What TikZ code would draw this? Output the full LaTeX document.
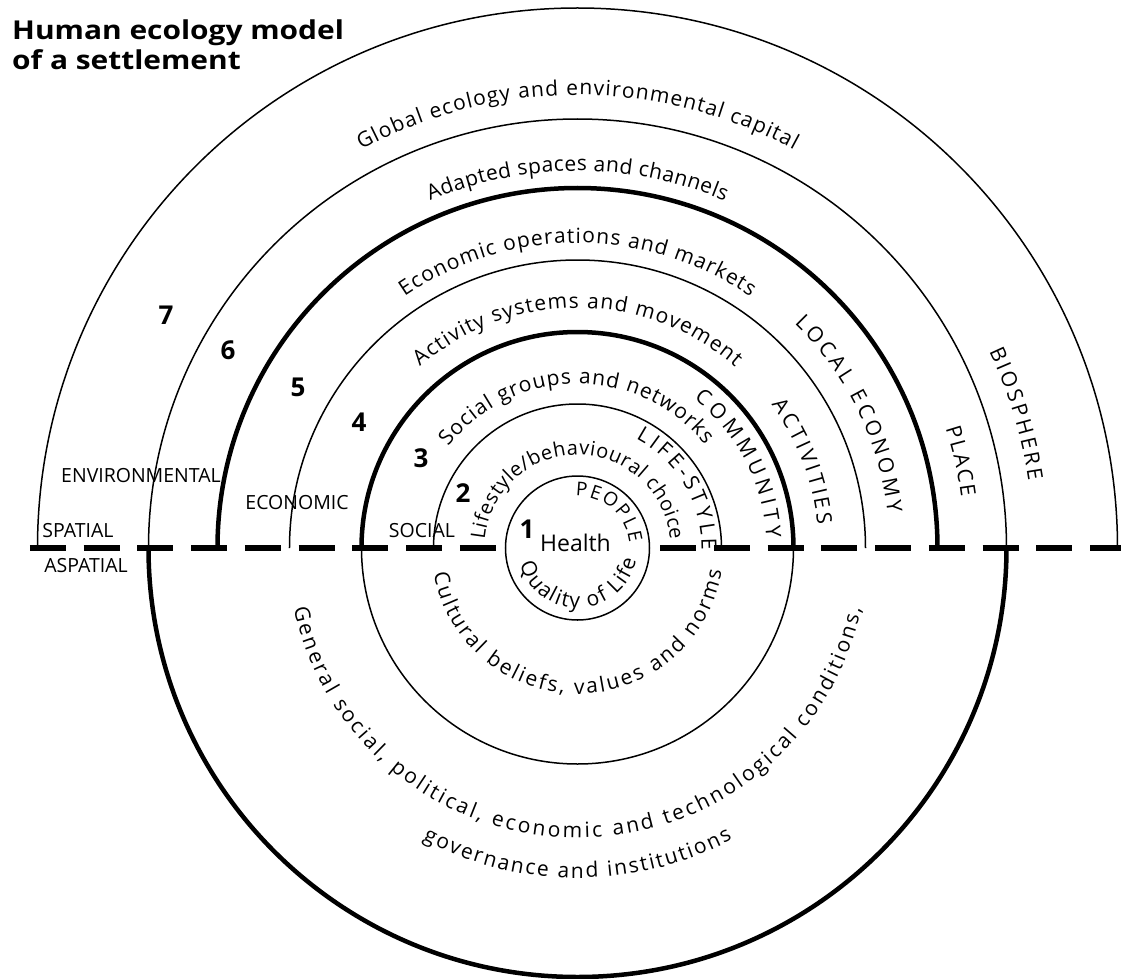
\documentclass[tikz,border=0pt]{standalone}
\usepackage{fontspec}
\setmainfont{Open Sans}
\newfontfamily\titlefont{Open Sans}[FakeStretch=1.15]
\usetikzlibrary{decorations.text}

\newcommand{\arcfont}{\fontsize{21}{24}\selectfont}
\newcommand{\capsfont}{\fontsize{19.5}{22}\selectfont}

\begin{document}
\begin{tikzpicture}[x=1pt,y=1pt,
  thinring/.style={line width=1.5pt},
  thickring/.style={line width=4.5pt},
  divider/.style={line width=6pt,dash pattern=on 36pt off 17.75pt},
  sector/.style={font=\capsfont,inner sep=0pt},
  level/.style={font=\fontsize{26}{28}\selectfont\bfseries,inner sep=0pt},
  heading/.style={font=\titlefont\fontsize{26}{28}\selectfont\bfseries,anchor=base west,inner sep=0pt},
  ringtext/.style={decorate,decoration={text along path,text align={fit to path},text={|\arcfont|#1}}},
  ringcaps/.style 2 args={decorate,decoration={text along path,text align={fit to path},text={|\fontsize{#1}{22}\selectfont|#2}}}]

\useasboundingbox (-577.5,-430) rectangle (543.5,548);

\draw[thinring] (180:540) arc[start angle=180,end angle=0,radius=540];
\draw[thinring] (180:429) arc[start angle=180,end angle=0,radius=429];
\draw[thickring] (180:429) arc[start angle=180,end angle=360,radius=429];
\draw[thickring] (180:360) arc[start angle=180,end angle=0,radius=360];
\draw[thinring] (180:288) arc[start angle=180,end angle=0,radius=288];
\draw[thickring] (180:216) arc[start angle=180,end angle=0,radius=216];
\draw[thinring] (180:216) arc[start angle=180,end angle=360,radius=216];
\draw[thinring] (180:144) arc[start angle=180,end angle=0,radius=144];
\draw[thinring] (0,0) circle[radius=72];

\draw[divider] (-547.5,0) -- (-80.5,0);
\draw[divider] (82.5,0) -- (543.5,0);

\node[heading] (title1) at (-565.5,508) {Human ecology model};
\node[heading] (title2) at (-565.5,478) {of a settlement};

\node[sector] (spatial) at (-499.5,17) {SPATIAL};
\node[sector] (aspatial) at (-491.5,-18) {ASPATIAL};
\node[sector] (environmental) at (-436.5,72) {ENVIRONMENTAL};
\node[sector] (economic) at (-280.5,45) {ECONOMIC};
\node[sector] (social) at (-155.5,17) {SOCIAL};
\node[font=\fontsize{23}{26}\selectfont,anchor=base,inner sep=0pt] (health) at (-2,-3) {Health};

\foreach \n/\x/\y in {1/-50.5/19,2/-114.5/55,3/-156.5/90,4/-218.5/126,5/-279.5/161,6/-349.5/198,7/-411.5/233}
  \node[level] (l\n) at (\x,\y) {\n};

\path[ringtext={Global ecology and environmental capital}] (118.5:453) arc[start angle=118.5,end angle=61.5,radius=453];
\path[ringtext={Adapted spaces and channels}] (113:377) arc[start angle=113,end angle=67,radius=377];
\path[ringtext={Economic operations and markets}] (124.5:305) arc[start angle=124.5,end angle=55.5,radius=305];
\path[ringtext={Activity systems and movement}] (131:240) arc[start angle=131,end angle=49,radius=240];
\path[ringtext={Social groups and networks}] (142:164) arc[start angle=142,end angle=39,radius=164];
\path[decorate,decoration={text along path,text align={fit to path},text={|\fontsize{20}{22}\selectfont|Lifestyle/behavioural choice}}] (175:93) arc[start angle=175,end angle=5,radius=93];

\path[ringcaps={21}{BIOSPHERE}] (25.5:456) arc[start angle=25.5,end angle=8.5,radius=456];
\path[ringcaps={21}{PLACE}] (18:387) arc[start angle=18,end angle=7.5,radius=387];
\path[ringcaps={21}{LOCAL ECONOMY}] (46:312) arc[start angle=46,end angle=6.5,radius=312];
\path[ringcaps={21}{ACTIVITIES}] (36.5:241) arc[start angle=36.5,end angle=5.5,radius=241];
\path[ringcaps={21}{COMMUNITY}] (52:189) arc[start angle=52,end angle=3,radius=189];
\path[ringcaps={21}{LIFE-STYLE}] (62:124) arc[start angle=62,end angle=-1,radius=124];
\path[ringcaps={19}{PEOPLE}] (92:52) arc[start angle=92,end angle=6,radius=52];

\path[ringtext={Quality of Life}] (196:60) arc[start angle=196,end angle=348,radius=60];
\path[ringtext={Cultural beliefs, values and norms}] (190:146) arc[start angle=190,end angle=351,radius=146];
\path[ringtext={General social, political, economic and technological conditions,}] (192:290) arc[start angle=192,end angle=348,radius=290];
\path[ringtext={governance and institutions}] (242:330) arc[start angle=242,end angle=298,radius=330];
\end{tikzpicture}
\end{document}
